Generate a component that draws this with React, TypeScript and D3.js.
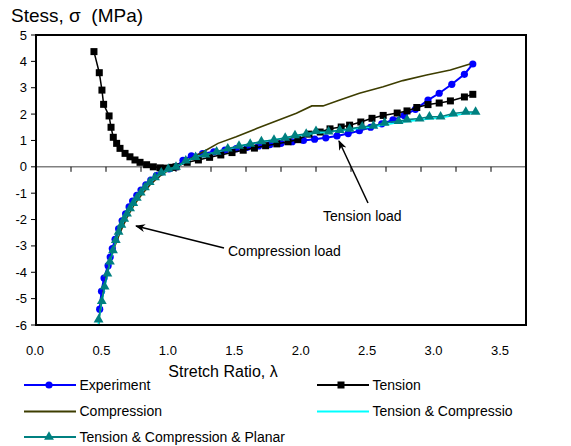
import React, { useRef, useEffect } from 'react';
import * as d3 from 'd3';

// [stretch ratio, stress MPa]
const experiment: [number, number][] = [
  [0.455, -5.4], [0.468, -4.72], [0.486, -4.22], [0.515, -3.75], [0.53, -3.42],
  [0.545, -3.1], [0.565, -2.75], [0.59, -2.35], [0.615, -2.05], [0.64, -1.78],
  [0.665, -1.52], [0.69, -1.3], [0.72, -1.08], [0.75, -0.88], [0.785, -0.68],
  [0.82, -0.5], [0.86, -0.33], [0.9, -0.19], [0.95, -0.08], [1.0, 0.0],
  [1.05, 0.25], [1.11, 0.42], [1.19, 0.5], [1.27, 0.57], [1.35, 0.63],
  [1.43, 0.69], [1.51, 0.74], [1.59, 0.79], [1.67, 0.84], [1.75, 0.89],
  [1.83, 0.95], [1.91, 1.0], [1.99, 1.05], [2.07, 1.1], [2.15, 1.17],
  [2.23, 1.26], [2.31, 1.37], [2.39, 1.5], [2.47, 1.63], [2.55, 1.78],
  [2.63, 1.95], [2.71, 2.18], [2.8, 2.53], [2.88, 2.79], [2.97, 3.13],
  [3.06, 3.51], [3.12, 3.9]
];

const tension: [number, number][] = [
  [0.414, 4.37], [0.452, 3.57], [0.471, 2.91], [0.483, 2.37], [0.522, 1.93],
  [0.536, 1.5], [0.552, 1.12], [0.576, 0.89], [0.6, 0.7], [0.636, 0.51],
  [0.671, 0.38], [0.707, 0.26], [0.743, 0.17], [0.79, 0.08], [0.838, 0.0],
  [0.886, -0.04], [0.93, -0.05], [0.975, -0.02], [1.0, 0.0],
  [1.08, 0.17], [1.16, 0.26], [1.24, 0.36], [1.32, 0.45], [1.4, 0.54],
  [1.48, 0.63], [1.56, 0.71], [1.64, 0.8], [1.72, 0.87], [1.8, 0.95],
  [1.87, 1.03], [1.95, 1.24], [2.03, 1.32], [2.1, 1.44], [2.18, 1.51],
  [2.24, 1.58], [2.32, 1.7], [2.4, 1.84], [2.48, 1.95], [2.58, 2.04],
  [2.65, 2.12], [2.72, 2.25], [2.8, 2.36], [2.88, 2.42], [2.96, 2.5],
  [3.06, 2.65], [3.12, 2.75]
];

const compression: [number, number][] = [
  [0.44, -6.4], [0.455, -5.6], [0.475, -4.9], [0.5, -4.2], [0.53, -3.55],
  [0.56, -3.05], [0.6, -2.5], [0.65, -1.92], [0.7, -1.45], [0.76, -1.02],
  [0.82, -0.65], [0.88, -0.37], [0.94, -0.15], [1.0, 0.0], [1.1, 0.3],
  [1.195, 0.57], [1.3, 0.89], [1.43, 1.14], [1.58, 1.46], [1.72, 1.75],
  [1.86, 2.03], [1.97, 2.31], [2.05, 2.31], [2.17, 2.53], [2.31, 2.79],
  [2.48, 3.04], [2.62, 3.27], [2.79, 3.48], [2.96, 3.67], [3.1, 3.9]
];

const tensionCompression: [number, number][] = [
  [0.44, -6.5], [0.447, -5.85], [0.47, -5.12], [0.49, -4.57], [0.51, -4.07],
  [0.528, -3.62], [0.55, -3.19], [0.57, -2.8], [0.61, -2.22], [0.65, -1.8],
  [0.695, -1.4], [0.748, -1.0], [0.812, -0.6], [0.895, -0.24], [1.0, 0.0],
  [1.14, 0.37], [1.29, 0.56], [1.45, 0.78], [1.61, 0.95], [1.78, 1.09],
  [1.93, 1.24], [2.09, 1.32], [2.24, 1.42], [2.41, 1.52], [2.59, 1.68],
  [2.74, 1.78], [2.89, 1.86], [3.07, 2.02], [3.14, 2.05]
];

const tcPlanar: [number, number][] = [
  [0.447, -5.8], [0.47, -5.1], [0.49, -4.55], [0.51, -4.05], [0.528, -3.6],
  [0.55, -3.17], [0.57, -2.78], [0.59, -2.47], [0.61, -2.2], [0.63, -1.98],
  [0.65, -1.78], [0.672, -1.58], [0.695, -1.38], [0.72, -1.18], [0.748, -0.98],
  [0.778, -0.78], [0.812, -0.58], [0.85, -0.4], [0.895, -0.22], [0.945, -0.08],
  [1.0, 0.0], [1.07, 0.23], [1.14, 0.37], [1.21, 0.46], [1.29, 0.57],
  [1.37, 0.69], [1.45, 0.79], [1.53, 0.87], [1.61, 0.96], [1.7, 1.02],
  [1.78, 1.1], [1.85, 1.19], [1.93, 1.25], [2.0, 1.35], [2.09, 1.33],
  [2.17, 1.39], [2.24, 1.44], [2.33, 1.52], [2.41, 1.55], [2.49, 1.67],
  [2.59, 1.73], [2.65, 1.79], [2.74, 1.83], [2.81, 1.9], [2.89, 1.9],
  [2.98, 2.02], [3.07, 2.08], [3.14, 2.08]
];

const yTicks = [5, 4, 3, 2, 1, 0, -1, -2, -3, -4, -5, -6];
const xTickValues = [0, 0.5, 1, 1.5, 2, 2.5, 3, 3.5];
const xTickLabels = ['0.0', '0.5', '1.0', '1.5', '2.0', '2.5', '3.0', '3.5'];
const xMinorTicks = [0.25, 0.5, 0.75, 1, 1.25, 1.5, 1.75, 2, 2.25, 2.5, 2.75, 3, 3.25];

const W = 571, H = 446;
const FONT = '"Liberation Sans", Arial, sans-serif';

const App = () => {
  const svgRef = useRef<SVGSVGElement>(null);

  useEffect(() => {
    const svg = d3.select(svgRef.current);
    svg.selectAll('*').remove();

    const x = d3.scaleLinear().domain([0, 3.5]).range([36, 526]);
    const xLabel = d3.scaleLinear().domain([0, 3.5]).range([35, 500]);
    const y = d3.scaleLinear().domain([-6, 5]).range([325, 35]);

    const defs = svg.append('defs');
    defs.append('clipPath').attr('id', 'plot')
      .append('rect').attr('x', 36).attr('y', 35).attr('width', 490).attr('height', 290);
    defs.append('marker').attr('id', 'arrow')
      .attr('viewBox', '0 0 10 10').attr('refX', 9).attr('refY', 5)
      .attr('markerWidth', 10).attr('markerHeight', 10).attr('orient', 'auto')
      .attr('markerUnits', 'userSpaceOnUse')
      .append('path').attr('d', 'M0,1 L10,5 L0,9 L3,5 Z').attr('fill', '#000');

    // zero line with ticks
    svg.append('line')
      .attr('x1', x(0)).attr('x2', x(3.5)).attr('y1', y(0)).attr('y2', y(0))
      .attr('stroke', '#808080').attr('stroke-width', 1.5);
    svg.append('g').selectAll('line').data(xMinorTicks).join('line')
      .attr('x1', d => x(d)).attr('x2', d => x(d))
      .attr('y1', y(0)).attr('y2', y(0) + 5)
      .attr('stroke', '#000').attr('stroke-width', 1);

    // y ticks and labels
    svg.append('g').selectAll('line').data(yTicks).join('line')
      .attr('x1', 31).attr('x2', 36).attr('y1', d => y(d)).attr('y2', d => y(d))
      .attr('stroke', '#000');
    svg.append('g').selectAll('text').data(yTicks).join('text')
      .attr('x', 27).attr('y', d => y(d)).attr('dy', '0.35em')
      .attr('text-anchor', 'end').attr('font-family', FONT).attr('font-size', 13)
      .text(d => d);

    // x labels
    svg.append('g').selectAll('text').data(xTickValues).join('text')
      .attr('x', d => xLabel(d)).attr('y', 350).attr('dy', '0.35em')
      .attr('text-anchor', 'middle').attr('font-family', FONT).attr('font-size', 13)
      .text((d, i) => xTickLabels[i]);

    const line = d3.line<[number, number]>().x(d => x(d[0])).y(d => y(d[1]));
    const plot = svg.append('g').attr('clip-path', 'url(#plot)');

    // Experiment
    plot.append('path').attr('d', line(experiment)).attr('fill', 'none')
      .attr('stroke', '#0000ff').attr('stroke-width', 2);
    plot.append('g').selectAll('circle').data(experiment).join('circle')
      .attr('cx', d => x(d[0])).attr('cy', d => y(d[1])).attr('r', 3.6)
      .attr('fill', '#0000ff');

    // Tension
    plot.append('path').attr('d', line(tension)).attr('fill', 'none')
      .attr('stroke', '#000').attr('stroke-width', 1.5);
    plot.append('g').selectAll('rect').data(tension).join('rect')
      .attr('x', d => x(d[0]) - 3.5).attr('y', d => y(d[1]) - 3.5)
      .attr('width', 7).attr('height', 7).attr('fill', '#000');

    // Compression
    plot.append('path').attr('d', line(compression)).attr('fill', 'none')
      .attr('stroke', '#3d3d00').attr('stroke-width', 1.6);

    // Tension & Compression
    plot.append('path').attr('d', line(tensionCompression)).attr('fill', 'none')
      .attr('stroke', '#00ffff').attr('stroke-width', 1.6);

    // Tension & Compression & Planar
    const tri = d3.symbol().type(d3.symbolTriangle).size(42);
    plot.append('path').attr('d', line(tcPlanar)).attr('fill', 'none')
      .attr('stroke', '#008080').attr('stroke-width', 1.6);
    plot.append('g').selectAll('path').data(tcPlanar).join('path')
      .attr('transform', d => `translate(${x(d[0])},${y(d[1])})`)
      .attr('d', tri()).attr('fill', '#008080');

    // plot frame
    svg.append('rect').attr('x', 36).attr('y', 35).attr('width', 490).attr('height', 290)
      .attr('fill', 'none').attr('stroke', '#000').attr('stroke-width', 2);

    // annotations
    svg.append('line').attr('x1', 368).attr('y1', 203).attr('x2', 339).attr('y2', 141)
      .attr('stroke', '#000').attr('stroke-width', 1.5).attr('marker-end', 'url(#arrow)');
    svg.append('text').attr('x', 323).attr('y', 216).attr('dy', '0.35em')
      .attr('font-family', FONT).attr('font-size', 14).text('Tension load');
    svg.append('line').attr('x1', 224).attr('y1', 248).attr('x2', 136).attr('y2', 226)
      .attr('stroke', '#000').attr('stroke-width', 1.5).attr('marker-end', 'url(#arrow)');
    svg.append('text').attr('x', 228).attr('y', 251).attr('dy', '0.35em')
      .attr('font-family', FONT).attr('font-size', 14).text('Compression load');

    // titles
    const yt = svg.append('text').attr('x', 11).attr('y', 22)
      .attr('font-family', FONT).attr('font-size', 19).style('white-space', 'pre');
    yt.append('tspan').text('Stess, ');
    yt.append('tspan').text('σ');
    yt.append('tspan').text('  (MPa)');
    svg.append('text').attr('x', 223).attr('y', 377).attr('text-anchor', 'middle')
      .attr('font-family', FONT).attr('font-size', 16).text('Stretch Ratio, λ');

    // legend
    const legend = [
      { name: 'Experiment', color: '#0000ff', mark: 'circle', lx: 24, ly: 385 },
      { name: 'Tension', color: '#000', mark: 'square', lx: 317, ly: 385 },
      { name: 'Compression', color: '#3d3d00', mark: 'none', lx: 24, ly: 411.5 },
      { name: 'Tension & Compressio', color: '#00ffff', mark: 'none', lx: 317, ly: 411.5 },
      { name: 'Tension & Compression & Planar', color: '#008080', mark: 'triangle', lx: 24, ly: 437 }
    ];
    const lg = svg.append('g').selectAll('g').data(legend).join('g')
      .attr('transform', d => `translate(${d.lx},${d.ly})`);
    lg.append('line').attr('x1', 0).attr('x2', 52).attr('y1', 0).attr('y2', 0)
      .attr('stroke', d => d.color).attr('stroke-width', 2);
    lg.filter(d => d.mark === 'circle').append('circle').attr('cx', 25).attr('r', 3.6)
      .attr('fill', d => d.color);
    lg.filter(d => d.mark === 'square').append('rect').attr('x', 20.5).attr('y', -3.5)
      .attr('width', 7).attr('height', 7).attr('fill', d => d.color);
    lg.filter(d => d.mark === 'triangle').append('path')
      .attr('transform', 'translate(25,0)').attr('d', tri()).attr('fill', d => d.color);
    lg.append('text').attr('x', 55.5).attr('y', 0).attr('dy', '0.35em')
      .attr('font-family', FONT).attr('font-size', 14).text(d => d.name);
  }, []);

  return (
    <div>
      <svg ref={svgRef} width={W} height={H}
        style={{ position: 'absolute', left: 0, top: 0, background: '#fff' }} />
    </div>
  );
};

export default App;
